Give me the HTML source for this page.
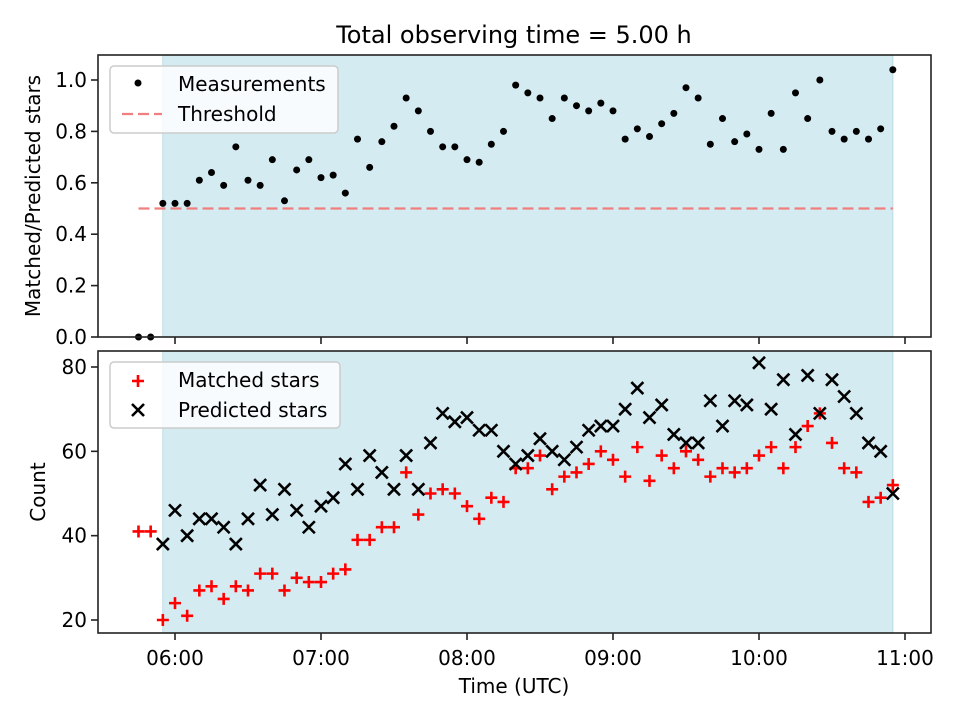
<!DOCTYPE html>
<html><head><meta charset="utf-8"><style>
html,body{margin:0;padding:0;background:#fff}
svg{display:block;font-family:"DejaVu Sans","Liberation Sans",sans-serif}
</style></head><body>
<svg id="chart" width="960" height="720" viewBox="0 0 960 720" xmlns="http://www.w3.org/2000/svg"></svg>
<script>
const ratio=[0,0,0.52,0.52,0.52,0.61,0.64,0.59,0.74,0.61,0.59,0.69,0.53,0.65,0.69,0.62,0.63,0.56,0.77,0.66,0.76,0.82,0.93,0.88,0.80,0.74,0.74,0.69,0.68,0.75,0.80,0.98,0.95,0.93,0.85,0.93,0.90,0.88,0.91,0.88,0.77,0.81,0.78,0.83,0.87,0.97,0.93,0.75,0.85,0.76,0.79,0.73,0.87,0.73,0.95,0.85,1.0,0.80,0.77,0.80,0.77,0.81,1.04];
const matched=[41,41,20,24,21,27,28,25,28,27,31,31,27,30,29,29,31,32,39,39,42,42,55,45,50,51,50,47,44,49,48,56,56,59,51,54,55,57,60,58,54,61,53,59,56,60,58,54,56,55,56,59,61,56,61,66,69,62,56,55,48,49,52];
const predicted=[null,null,38,46,40,44,44,42,38,44,52,45,51,46,42,47,49,57,51,59,55,51,59,51,62,69,67,68,65,65,60,57,59,63,60,58,61,65,66,66,70,75,68,71,64,62,62,72,66,72,71,81,70,77,64,78,69,77,73,69,62,60,50];
const startMin=-15, stepMin=5; // minutes relative to 06:00
const xTickLabels=["06:00","07:00","08:00","09:00","10:00","11:00"];
const topTicks=[0.0,0.2,0.4,0.6,0.8,1.0];
const botTicks=[20,40,60,80];
const threshold=0.5, spanStart=-5, spanEnd=295;

const NS="http://www.w3.org/2000/svg";
const svg=document.getElementById('chart');
function mk(tag,attrs,parent){const e=document.createElementNS(NS,tag);for(const k in attrs)e.setAttribute(k,attrs[k]);(parent||svg).appendChild(e);return e;}
const L=98,R=931,T1=55,B1=337,T2=351,B2=633;
const xs=m=>175+m*(146/60);
const y1=v=>337-v*257;
const y2=v=>367+(80-v)*(253/60);
const times=ratio.map((_,i)=>startMin+i*stepMin);

const title=mk('text',{x:514,y:43,'text-anchor':'middle','font-size':24,fill:'#000'});


title.textContent='Total observing time = 5.00 h';

function panel(T,B,name){
  const g=mk('g',{});
  
  
  mk('rect',{x:L,y:T,width:R-L,height:B-T,fill:'#fff'},g);
  const span=mk('rect',{x:xs(spanStart),y:T,width:xs(spanEnd)-xs(spanStart),height:B-T,fill:'#d5ebf2',stroke:'#b9dbe6','stroke-width':1},g);
  
  
  return g;
}
function frame(T,B,g){
  mk('rect',{x:L,y:T,width:R-L,height:B-T,fill:'none',stroke:'#222','stroke-width':1.6},g);
  xTickLabels.forEach((lab,i)=>{const x=xs(i*60);mk('line',{x1:x,x2:x,y1:B,y2:B+7,stroke:'#222','stroke-width':1.6},g);});
}

const gt=panel(T1,B1,'ratio-panel');
const th=mk('line',{x1:xs(startMin),x2:xs(times[times.length-1]),y1:y1(threshold),y2:y1(threshold),stroke:'#f08080','stroke-width':2.2,'stroke-dasharray':'11,5'},gt);


ratio.forEach((v,i)=>{
  const c=mk('circle',{cx:xs(times[i]),cy:y1(v),r:3.5,fill:'#000'},gt);
  
  
});
frame(T1,B1,gt);
topTicks.forEach(v=>{
  const y=y1(v);
  mk('line',{x1:L-7,x2:L,y1:y,y2:y,stroke:'#222','stroke-width':1.6},gt);
  const t=mk('text',{x:L-11,y:y+7,'text-anchor':'end','font-size':20},gt);
  
  
  t.textContent=v.toFixed(1);
});
const yl1=mk('text',{x:0,y:0,transform:'translate(40,196) rotate(-90)','text-anchor':'middle','font-size':20},gt);


yl1.textContent='Matched/Predicted stars';

const lg1=mk('g',{});


mk('rect',{x:110,y:66,width:228,height:67,rx:4,fill:'rgba(255,255,255,0.8)',stroke:'#ccc','stroke-width':1.5},lg1);
mk('circle',{cx:138,cy:83,r:3.5,fill:'#000'},lg1);
mk('text',{x:178,y:91,'font-size':20},lg1).textContent='Measurements';
mk('line',{x1:122,x2:162,y1:114,y2:114,stroke:'#f08080','stroke-width':2.2,'stroke-dasharray':'11,5'},lg1);
mk('text',{x:178,y:121,'font-size':20},lg1).textContent='Threshold';

const gb=panel(T2,B2,'count-panel');
function plus(x,y,g){mk('path',{d:`M${x-6},${y}H${x+6}M${x},${y-6}V${y+6}`,stroke:'#f00','stroke-width':2.6,fill:'none'},g);}
function cross(x,y,g){mk('path',{d:`M${x-6},${y-6}L${x+6},${y+6}M${x-6},${y+6}L${x+6},${y-6}`,stroke:'#000','stroke-width':2.6,fill:'none'},g);}
matched.forEach((v,i)=>{
  const g=mk('g',{},gb);
  
  
  plus(xs(times[i]),y2(v),g);
});
predicted.forEach((v,i)=>{
  if(v===null)return;
  const g=mk('g',{},gb);
  
  
  cross(xs(times[i]),y2(v),g);
});
frame(T2,B2,gb);
botTicks.forEach(v=>{
  const y=y2(v);
  mk('line',{x1:L-7,x2:L,y1:y,y2:y,stroke:'#222','stroke-width':1.6},gb);
  const t=mk('text',{x:L-11,y:y+7,'text-anchor':'end','font-size':20},gb);
  
  
  t.textContent=String(v);
});
xTickLabels.forEach((lab,i)=>{
  const t=mk('text',{x:xs(i*60),y:665,'text-anchor':'middle','font-size':20},gb);
  
  
  t.textContent=lab;
});
const xl=mk('text',{x:514,y:693,'text-anchor':'middle','font-size':20},gb);


xl.textContent='Time (UTC)';
const yl2=mk('text',{x:0,y:0,transform:'translate(45,492) rotate(-90)','text-anchor':'middle','font-size':20},gb);


yl2.textContent='Count';

const lg2=mk('g',{});


mk('rect',{x:110,y:362,width:230,height:66,rx:4,fill:'rgba(255,255,255,0.8)',stroke:'#ccc','stroke-width':1.5},lg2);
plus(138,381,lg2);
mk('text',{x:178,y:387,'font-size':20},lg2).textContent='Matched stars';
cross(138,410,lg2);
mk('text',{x:178,y:417,'font-size':20},lg2).textContent='Predicted stars';
</script>
</body></html>
